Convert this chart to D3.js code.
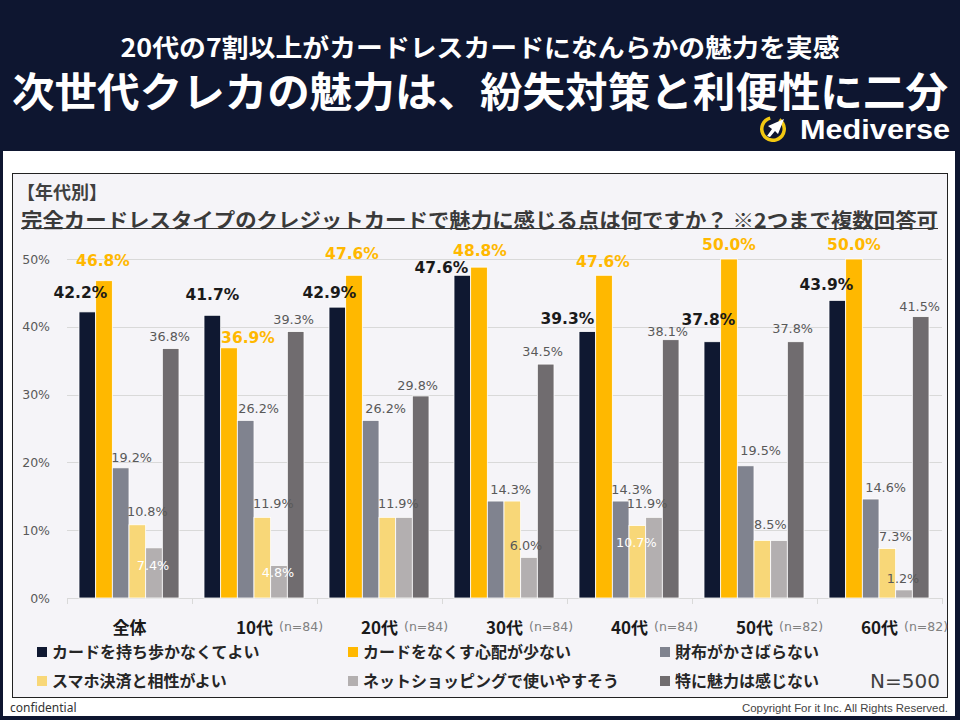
<!DOCTYPE html>
<html>
<head>
<meta charset="utf-8">
<script src="https://cdn.jsdelivr.net/npm/d3@7"></script>
<style>
  body { margin: 0; background: #0e1630; }
  svg { display: block; }
</style>
</head>
<body>
<svg id="chart" width="960" height="720"></svg>
<script>
// data
const groups = ["全体", "10代", "20代", "30代", "40代", "50代", "60代"];
const sampleSizes = [null, 84, 84, 84, 84, 82, 82];
const seriesNames = [
  "カードを持ち歩かなくてよい",
  "カードをなくす心配が少ない",
  "財布がかさばらない",
  "スマホ決済と相性がよい",
  "ネットショッピングで使いやすそう",
  "特に魅力は感じない"
];
const noCarry   = [42.2, 41.7, 42.9, 47.6, 39.3, 37.8, 43.9];
const noLoss    = [46.8, 36.9, 47.6, 48.8, 47.6, 50.0, 50.0];
const slimWallet = [19.2, 26.2, 26.2, 14.3, 14.3, 19.5, 14.6];
const phonePay  = [10.8, 11.9, 11.9, 14.3, 10.7, 8.5, 7.3];
const webShop   = [7.4, 4.8, 11.9, 6.0, 11.9, 8.5, 1.2];
const noAppeal  = [36.8, 39.3, 29.8, 34.5, 38.1, 37.8, 41.5];
const yTicks = [0, 10, 20, 30, 40, 50];

const seriesValues = [noCarry, noLoss, slimWallet, phonePay, webShop, noAppeal];
const colors = ["#0f1831", "#ffb800", "#80838f", "#f8d778", "#b3afb0", "#706c6f"];

// label nudges [dx, dy] from bar centre / bar top (per series, per group)
// null = label shared with the neighbouring bar of the same value
const labelNudge = [
  [[-7,-14],[0,-15],[-8,-9],[-21,-2],[-20,-8],[-4,-17],[-11,-10]],
  [[-1,-15],[19,-5],[-2,-16],[1,-11],[-1,-8],[0,-9],[0,-9]],
  [[11,-6],[13,-7],[15,-7],[15,-7],[11,-7],[15,-11],[15,-7]],
  [[10,-9],[11,-9],[11,-9],null,[-1,22],[8,-11],[8,-8]],
  [[-1,22],[-1,12],null,[-3,-7],[-7,-9],null,[-1,-7]],
  [[-1,-7],[-2,-8],[-3,-6],[-3,-8],[-3,-4],[-3,-9],[-1,-6]]
];
const whiteLabels = ["4-0", "4-1", "3-4"];

const svg = d3.select("#chart");

// ---- header ----
svg.append("rect").attr("width", 960).attr("height", 720).attr("fill", "#0e1630");
svg.append("text")
  .attr("x", 480).attr("y", 46)
  .attr("text-anchor", "middle").attr("dominant-baseline", "central")
  .attr("font-family", "'Noto Sans CJK JP'").attr("font-weight", 700)
  .attr("font-size", 25).attr("fill", "#fff")
  .attr("textLength", 719).attr("lengthAdjust", "spacingAndGlyphs")
  .text("20代の7割以上がカードレスカードになんらかの魅力を実感");
svg.append("text")
  .attr("x", 480).attr("y", 89)
  .attr("text-anchor", "middle").attr("dominant-baseline", "central")
  .attr("font-family", "'Noto Sans CJK JP'").attr("font-weight", 700)
  .attr("font-size", 41).attr("fill", "#fff")
  .attr("textLength", 936).attr("lengthAdjust", "spacingAndGlyphs")
  .text("次世代クレカの魅力は、紛失対策と利便性に二分");

// logo
const logo = svg.append("g").attr("transform", "translate(773,129)");
logo.append("path")
  .attr("d", d3.arc()({innerRadius: 9.5, outerRadius: 13, startAngle: 0.6, endAngle: 2 * Math.PI - 0.25}))
  .attr("fill", "#f2c811");
logo.append("path")
  .attr("d", "M11,-10 L-5,-3 L-1,0 L-6,7 L-3,8 L2,2 L5,5 Z")
  .attr("fill", "#fff");
svg.append("text")
  .attr("x", 800).attr("y", 139)
  .attr("font-family", "'Liberation Sans', Arial").attr("font-weight", 700)
  .attr("font-size", 28).attr("fill", "#fff")
  .attr("textLength", 150).attr("lengthAdjust", "spacingAndGlyphs")
  .text("Mediverse");

// ---- panels ----
svg.append("rect").attr("x", 3).attr("y", 151).attr("width", 952).attr("height", 565).attr("fill", "#fff");
svg.append("rect").attr("x", 12.5).attr("y", 173.5).attr("width", 935).attr("height", 524)
  .attr("fill", "#f5f4f8").attr("stroke", "#222").attr("stroke-width", 1);

svg.append("text")
  .attr("x", 17).attr("y", 191).attr("dominant-baseline", "central")
  .attr("font-family", "'Noto Sans CJK JP'").attr("font-weight", 700)
  .attr("font-size", 18).attr("fill", "#404040")
  .text("【年代別】");
svg.append("text")
  .attr("x", 21).attr("y", 219).attr("dominant-baseline", "central")
  .attr("font-family", "'Noto Sans CJK JP'").attr("font-weight", 700)
  .attr("font-size", 20).attr("fill", "#3a3a3a")
  .attr("textLength", 917).attr("lengthAdjust", "spacingAndGlyphs")
  .text("完全カードレスタイプのクレジットカードで魅力に感じる点は何ですか？ ※2つまで複数回答可");
svg.append("line").attr("x1", 21).attr("x2", 938).attr("y1", 228.5).attr("y2", 228.5)
  .attr("stroke", "#333").attr("stroke-width", 1.2);

// ---- scales ----
const x0 = d3.scaleBand().domain(groups).range([67, 942]).padding(0);
const x1 = d3.scaleBand().domain(d3.range(seriesNames.length)).range([12, 112]).padding(0);
const y = d3.scaleLinear().domain([0, 50]).range([598, 259]);

// gridlines
svg.append("g").selectAll("line").data(yTicks).join("line")
  .attr("x1", 67).attr("x2", 942)
  .attr("y1", d => Math.round(y(d)) + 0.5).attr("y2", d => Math.round(y(d)) + 0.5)
  .attr("stroke", "#d9d9d9").attr("stroke-width", 1);

// y axis labels
const yAxis = d3.axisLeft(y).tickValues(yTicks).tickFormat(d => d + "%").tickSize(0).tickPadding(0);
svg.append("g").attr("transform", "translate(50,0)").call(yAxis)
  .call(g => g.select(".domain").remove())
  .selectAll("text")
  .attr("font-family", "'DejaVu Sans'").attr("font-size", 12.5).attr("fill", "#595959");

// group boundary ticks
svg.append("g").selectAll("line").data(d3.range(groups.length + 1)).join("line")
  .attr("x1", i => 67 + i * x0.bandwidth() + 0.5).attr("x2", i => 67 + i * x0.bandwidth() + 0.5)
  .attr("y1", 598).attr("y2", 604)
  .attr("stroke", "#d9d9d9");

// bars
const barData = [];
seriesValues.forEach((vals, s) => vals.forEach((v, g) => barData.push({s, g, v})));
const barX = d => x0(groups[d.g]) + x1(d.s);
svg.append("g").selectAll("rect").data(barData).join("rect")
  .attr("x", barX)
  .attr("y", d => y(d.v))
  .attr("width", x1.bandwidth())
  .attr("height", d => y(0) - y(d.v))
  .attr("fill", d => colors[d.s])
  .attr("stroke", "#fff").attr("stroke-width", 0.8);

// value labels
svg.append("g").selectAll("text").data(barData.filter(d => labelNudge[d.s][d.g])).join("text")
  .attr("x", d => barX(d) + x1.bandwidth() / 2 + labelNudge[d.s][d.g][0])
  .attr("y", d => y(d.v) + labelNudge[d.s][d.g][1])
  .attr("text-anchor", "middle")
  .attr("font-family", "'DejaVu Sans'")
  .attr("font-weight", d => d.s < 2 ? 700 : 400)
  .attr("font-size", d => d.s < 2 ? 15.5 : 12.8)
  .attr("fill", d => whiteLabels.includes(d.s + "-" + d.g) ? "#ffffff"
                   : d.s === 0 ? "#1a1a1a" : d.s === 1 ? "#ffb800" : "#595959")
  .text(d => d.v.toFixed(1) + "%");

// category labels
const cat = svg.append("g").selectAll("g").data(groups).join("g");
cat.append("text")
  .attr("class", "cat")
  .attr("x", d => x0(d) + x0.bandwidth() / 2)
  .attr("y", 626).attr("dominant-baseline", "central")
  .attr("text-anchor", "middle")
  .attr("font-family", "'Noto Sans CJK JP'").attr("font-weight", 700)
  .attr("font-size", 17).attr("fill", "#1a1a1a")
  .text(d => d);
cat.each(function(d, i) {
  if (sampleSizes[i] == null) return;
  const w = d3.select(this).select("text.cat").node().getComputedTextLength();
  d3.select(this).append("text")
    .attr("x", x0(d) + x0.bandwidth() / 2 + w / 2 + 6)
    .attr("y", 626).attr("dominant-baseline", "central")
    .attr("font-family", "'DejaVu Sans'").attr("font-size", 12.5).attr("fill", "#808080")
    .text("(n=" + sampleSizes[i] + ")");
});

// legend
const legendX = [37, 348, 660];
const legendY = [651, 680];
const leg = svg.append("g").selectAll("g").data(seriesNames).join("g")
  .attr("transform", (d, i) => `translate(${legendX[i % 3]},${legendY[Math.floor(i / 3)]})`);
leg.append("rect").attr("x", 0).attr("y", -4).attr("width", 10).attr("height", 10)
  .attr("fill", (d, i) => colors[i]);
leg.append("text")
  .attr("x", 15).attr("y", 0).attr("dominant-baseline", "central")
  .attr("font-family", "'Noto Sans CJK JP'").attr("font-weight", 700)
  .attr("font-size", 16).attr("fill", "#262626")
  .text(d => d);

svg.append("text")
  .attr("x", 940).attr("y", 681).attr("dominant-baseline", "central")
  .attr("text-anchor", "end")
  .attr("font-family", "'DejaVu Sans'").attr("font-size", 20).attr("fill", "#404040")
  .text("N=500");

// footer
svg.append("text")
  .attr("x", 10).attr("y", 712)
  .attr("font-family", "'Noto Sans'").attr("font-size", 12).attr("fill", "#333")
  .text("confidential");
svg.append("text")
  .attr("x", 948).attr("y", 712).attr("text-anchor", "end")
  .attr("font-family", "'Liberation Sans', Arial").attr("font-size", 10).attr("fill", "#444")
  .attr("textLength", 206).attr("lengthAdjust", "spacingAndGlyphs")
  .text("Copyright For it Inc. All Rights Reserved.");
</script>
</body>
</html>
